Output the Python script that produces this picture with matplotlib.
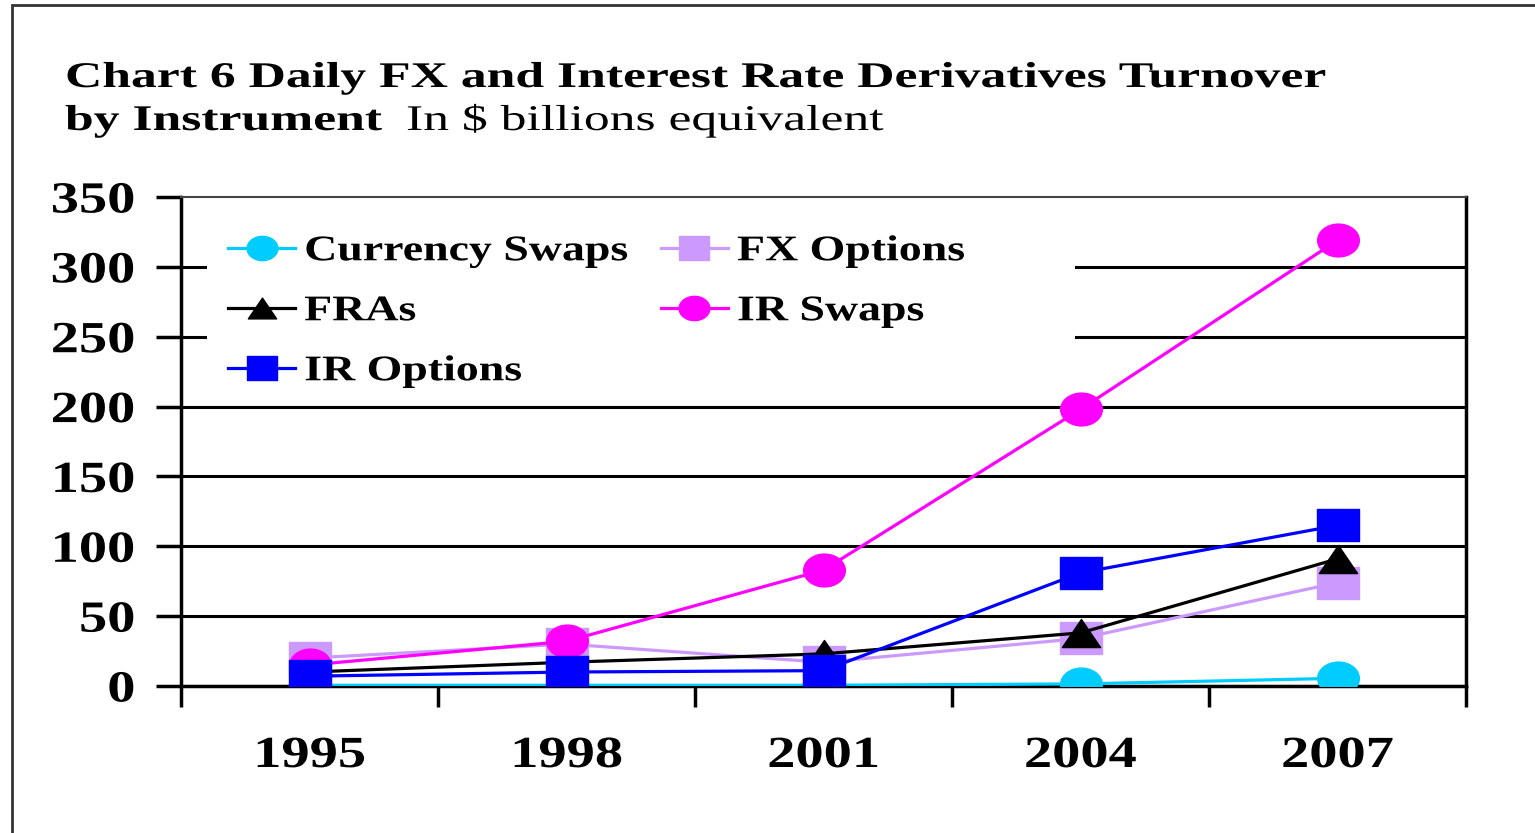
import matplotlib
matplotlib.use("Agg")
import matplotlib.pyplot as plt
from matplotlib.patches import Rectangle
from matplotlib.path import Path
from matplotlib.patheffects import AbstractPathEffect
from matplotlib.transforms import Affine2D

years = ["1995", "1998", "2001", "2004", "2007"]
currency_swaps = [0.5, 0.5, 0.5, 1.5, 5.5]
fras = [10, 17, 23, 38, 91]
ir_options = [7, 10, 11, 81, 115]
fx_options = [20, 30, 17, 34, 74]
ir_swaps = [15, 32, 83, 198, 319]

plt.rcParams['font.family'] = ['Liberation Serif', 'DejaVu Serif']


class Stretch(AbstractPathEffect):
    # the source picture is squashed sideways, widen the glyphs the same way
    def __init__(self, sx, anchor=0.0):
        super().__init__()
        self.sx = sx
        self.anchor = anchor

    def draw_path(self, renderer, gc, tpath, affine, rgbFace=None):
        w = tpath.get_extents().x1
        t = Affine2D().scale(self.sx, 1).translate(-(self.sx - 1) * w * self.anchor, 0) + affine
        renderer.draw_path(gc, tpath, t, rgbFace)


SX = 1.27
# wide markers (the picture is stretched horizontally)
circ = Path.unit_circle().transformed(Affine2D().scale(SX, 1))
sq = Path([(-SX, -1), (SX, -1), (SX, 1), (-SX, 1), (-SX, -1)], closed=True)
tri = Path([(0, 1), (-1.36, -1), (1.36, -1), (0, 1)], closed=True)

fig = plt.figure(figsize=(15.35, 8.33), dpi=100)
ax = fig.add_axes([181 / 1535, 1 - 686 / 833, (1466 - 181) / 1535, (686 - 197) / 833])

fig.add_artist(Rectangle((12 / 1535, -0.1), 1.2, 1.1 - 5 / 833, transform=fig.transFigure,
                         fill=False, edgecolor='#333333', linewidth=2))

x = list(range(len(years)))
lw = 2.3
ax.plot(x, currency_swaps, color='#00CCFF', marker=circ, markersize=30, lw=lw,
        label='Currency Swaps', zorder=3)
ax.plot(x, fras, color='black', marker=tri, markersize=27.5, lw=lw, label='FRAs', zorder=5)
ax.plot(x, ir_options, color='#0000FF', marker=sq, markersize=30, lw=lw,
        label='IR Options', zorder=7)
ax.plot(x, fx_options, color='#CC99FF', marker=sq, markersize=30, lw=lw,
        label='FX Options', zorder=4)
ax.plot(x, ir_swaps, color='#FF00FF', marker=circ, markersize=30, lw=lw,
        label='IR Swaps', zorder=6)

ax.set_xlim(-0.5, 4.5)
ax.set_ylim(0, 350)
ax.set_yticks(range(0, 351, 50))
ax.set_xticks(x)
ax.set_xticklabels(years)
ax.set_xticks([i - 0.5 for i in range(len(years) + 1)], minor=True)
ax.tick_params(axis='x', which='major', length=0, pad=36, labelsize=32)
ax.tick_params(axis='x', which='minor', length=15, width=2.5, direction='out')
ax.tick_params(axis='y', length=18, width=2.5, direction='out', pad=15, labelsize=32)
for lab in ax.get_xticklabels():
    lab.set_fontweight('bold')
    lab.set_path_effects([Stretch(SX, 0.5)])
for lab in ax.get_yticklabels():
    lab.set_fontweight('bold')
    lab.set_path_effects([Stretch(SX, 1.0)])

ax.grid(axis='y', color='black', lw=2.2)
ax.get_ygridlines()[-1].set_visible(False)
ax.set_axisbelow(True)
for s in ['left', 'right', 'bottom']:
    ax.spines[s].set_linewidth(2.5)
ax.spines['top'].set_linewidth(1.5)
ax.spines['top'].set_color('#444444')

# white patch behind the legend hides the grid lines
ax.add_patch(Rectangle((-0.399, 208), 3.378, 141, facecolor='white', edgecolor='none', zorder=1))

leg = ax.legend(loc='upper left', ncol=2, frameon=False,
                prop={'size': 26, 'weight': 'bold'}, handlelength=1.86,
                handletextpad=0.25, columnspacing=2.8, labelspacing=0.74, markerscale=0.74,
                bbox_to_anchor=(228 / 1535, 1 - 235 / 833), bbox_transform=fig.transFigure,
                borderaxespad=0, borderpad=0)
leg.set_zorder(10)
for t in leg.get_texts():
    t.set_path_effects([Stretch(SX)])

TS = 1.43
fig.text(65 / 1535, 1 - 87 / 833, "Chart 6 Daily FX and Interest Rate Derivatives Turnover",
         fontsize=26, fontweight='bold', path_effects=[Stretch(TS)])
fig.text(65 / 1535, 1 - 130 / 833, "by Instrument", fontsize=26, fontweight='bold',
         path_effects=[Stretch(TS)])
fig.text(406 / 1535, 1 - 130 / 833, "In $ billions equivalent", fontsize=26,
         path_effects=[Stretch(TS)])

fig.savefig("out.png", dpi=100, facecolor='white')
